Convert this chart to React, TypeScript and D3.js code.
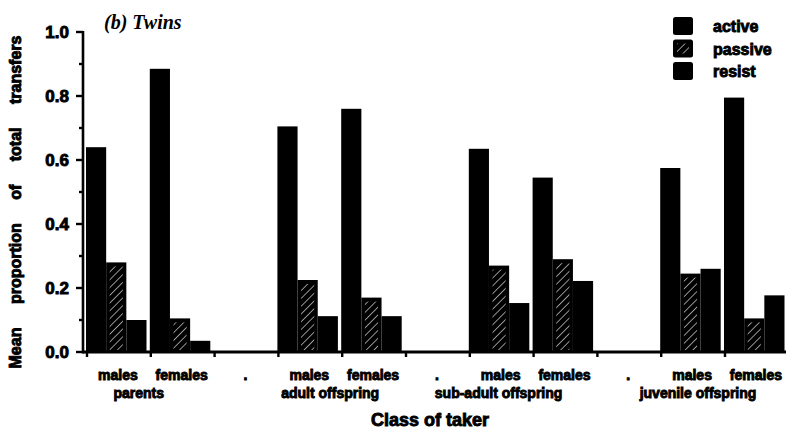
import React from "react";
import * as d3 from "d3";

// Class of taker: eleven slots along the x axis, blanks between the four groups
const takerLabels = ["males", "females", ".", "males", "females", ".", "males", "females", ".", "males", "females"];
const groupLabels = ["parents", "adult offspring", "sub-adult offspring", "juvenile offspring"];
const seriesNames = ["active", "passive", "resist"];

// Mean proportion of total transfers per slot (null = blank slot)
const activeValues = [0.64, 0.885, null, 0.705, 0.76, null, 0.635, 0.545, null, 0.575, 0.795];
const passiveValues = [0.28, 0.105, null, 0.225, 0.17, null, 0.27, 0.29, null, 0.245, 0.105];
const resistValues = [0.1, 0.035, null, 0.112, 0.112, null, 0.153, 0.222, null, 0.26, 0.177];

const yTicks = [0, 0.2, 0.4, 0.6, 0.8, 1.0];
const yMinorTicks = [0.1, 0.3, 0.5, 0.7, 0.9];

const W = 786;
const H = 430;
const axisX = 83;
const bandStart = 87;
const bandStep = 63.8;
const y0 = 352;
const y1 = 32;

const font = "'Liberation Sans', Arial, Helvetica, sans-serif";
const boldText = { fontFamily: font, fontWeight: 700, fill: "#000", stroke: "#000", strokeWidth: 0.9 } as const;

// group label nudges relative to the centre of each male/female pair
const groupNudge = [-12, -12, -35, -27];

export default function App() {
  const slots = takerLabels.map((_, i) => i);
  const x = d3
    .scaleBand<number>()
    .domain(slots)
    .range([bandStart, bandStart + bandStep * slots.length])
    .padding(0);
  const inner = d3.scaleBand<string>().domain(seriesNames).range([-1, 59.5]).padding(0);
  const y = d3.scaleLinear().domain([0, 1]).range([y0, y1]);

  const series = [activeValues, passiveValues, resistValues];
  const boundaries = d3.range(slots.length + 1).map((i) => bandStart + i * bandStep);

  const bars: React.ReactNode[] = [];
  slots.forEach((s) => {
    series.forEach((vals, si) => {
      const v = vals[s];
      if (v == null) return;
      const bx = (x(s) as number) + (inner(seriesNames[si]) as number);
      const bw = inner.bandwidth();
      const top = y(v);
      const h = y0 - top;
      bars.push(
        <rect key={`b${s}-${si}`} x={bx} y={top} width={bw} height={h} fill="#000" />
      );
      if (si === 1 && h > 6) {
        bars.push(
          <rect
            key={`h${s}`}
            x={bx + 3.5}
            y={top + 4}
            width={bw - 7}
            height={h - 6}
            fill="url(#hatch)"
          />
        );
      }
    });
  });

  const pairCentres = [0, 3, 6, 9].map((i) => (x(i) as number) + bandStep);

  return (
    <svg width={W} height={H} style={{ position: "absolute", left: 0, top: 0, background: "#fff" }}>
      <defs>
        <pattern id="hatch" width="5.5" height="5.5" patternUnits="userSpaceOnUse" patternTransform="rotate(45)">
          <rect width="5.5" height="5.5" fill="#000" />
          <line x1="0" y1="0" x2="0" y2="5.5" stroke="#c4c4c4" strokeWidth="1.5" />
        </pattern>
      </defs>
      <rect width={W} height={H} fill="#fff" />

      {/* title */}
      <text x={104} y={29} fontFamily="'Liberation Serif', 'Times New Roman', serif" fontWeight={700} fontStyle="italic" fontSize={20}>
        (b) Twins
      </text>

      {/* bars */}
      {bars}

      {/* y axis */}
      <line x1={axisX} x2={axisX} y1={y(1) - 1} y2={y0 + 1.5} stroke="#000" strokeWidth={2.6} />
      {yTicks.map((t) => (
        <g key={`yt${t}`}>
          <line x1={axisX - 7} x2={axisX} y1={y(t)} y2={y(t)} stroke="#000" strokeWidth={2.4} />
          <text x={69} y={y(t) + 6} textAnchor="end" fontSize={17} style={boldText}>
            {d3.format(".1f")(t)}
          </text>
        </g>
      ))}
      {yMinorTicks.map((t) => (
        <line key={`ym${t}`} x1={axisX - 4} x2={axisX} y1={y(t)} y2={y(t)} stroke="#000" strokeWidth={2.4} />
      ))}

      {/* x axis */}
      <line x1={axisX} x2={W} y1={y0} y2={y0} stroke="#000" strokeWidth={2.8} />
      {boundaries.map((b, i) => (
        <line key={`xt${i}`} x1={b} x2={b} y1={y0} y2={y0 + 5} stroke="#000" strokeWidth={2.4} />
      ))}

      {/* slot labels */}
      {slots.map((s) => (
        <text
          key={`xl${s}`}
          x={(x(s) as number) + bandStep / 2 - 1}
          y={380}
          textAnchor="middle"
          fontSize={14}
          style={boldText}
        >
          {takerLabels[s]}
        </text>
      ))}
      {groupLabels.map((g, i) => (
        <text key={`gl${i}`} x={pairCentres[i] + groupNudge[i]} y={398} textAnchor="middle" fontSize={14} style={boldText}>
          {g}
        </text>
      ))}

      {/* axis titles */}
      <text x={430} y={426} textAnchor="middle" fontSize={18} style={boldText}>
        Class of taker
      </text>
      <text
        transform={`translate(21, ${(y0 + y1) / 2 + 10}) rotate(-90)`}
        textAnchor="middle"
        fontSize={16}
        wordSpacing={19}
        style={boldText}
      >
        Mean proportion of total transfers
      </text>

      {/* legend */}
      {seriesNames.map((n, i) => (
        <g key={`lg${n}`} transform={`translate(673, ${17 + i * 22.5})`}>
          <rect width={20} height={18} rx={2.5} fill="#000" />
          {i === 1 && <rect x={4} y={4} width={12} height={10} fill="url(#hatch)" />}
          <text x={40} y={15} fontSize={16} style={boldText}>
            {n}
          </text>
        </g>
      ))}
    </svg>
  );
}
